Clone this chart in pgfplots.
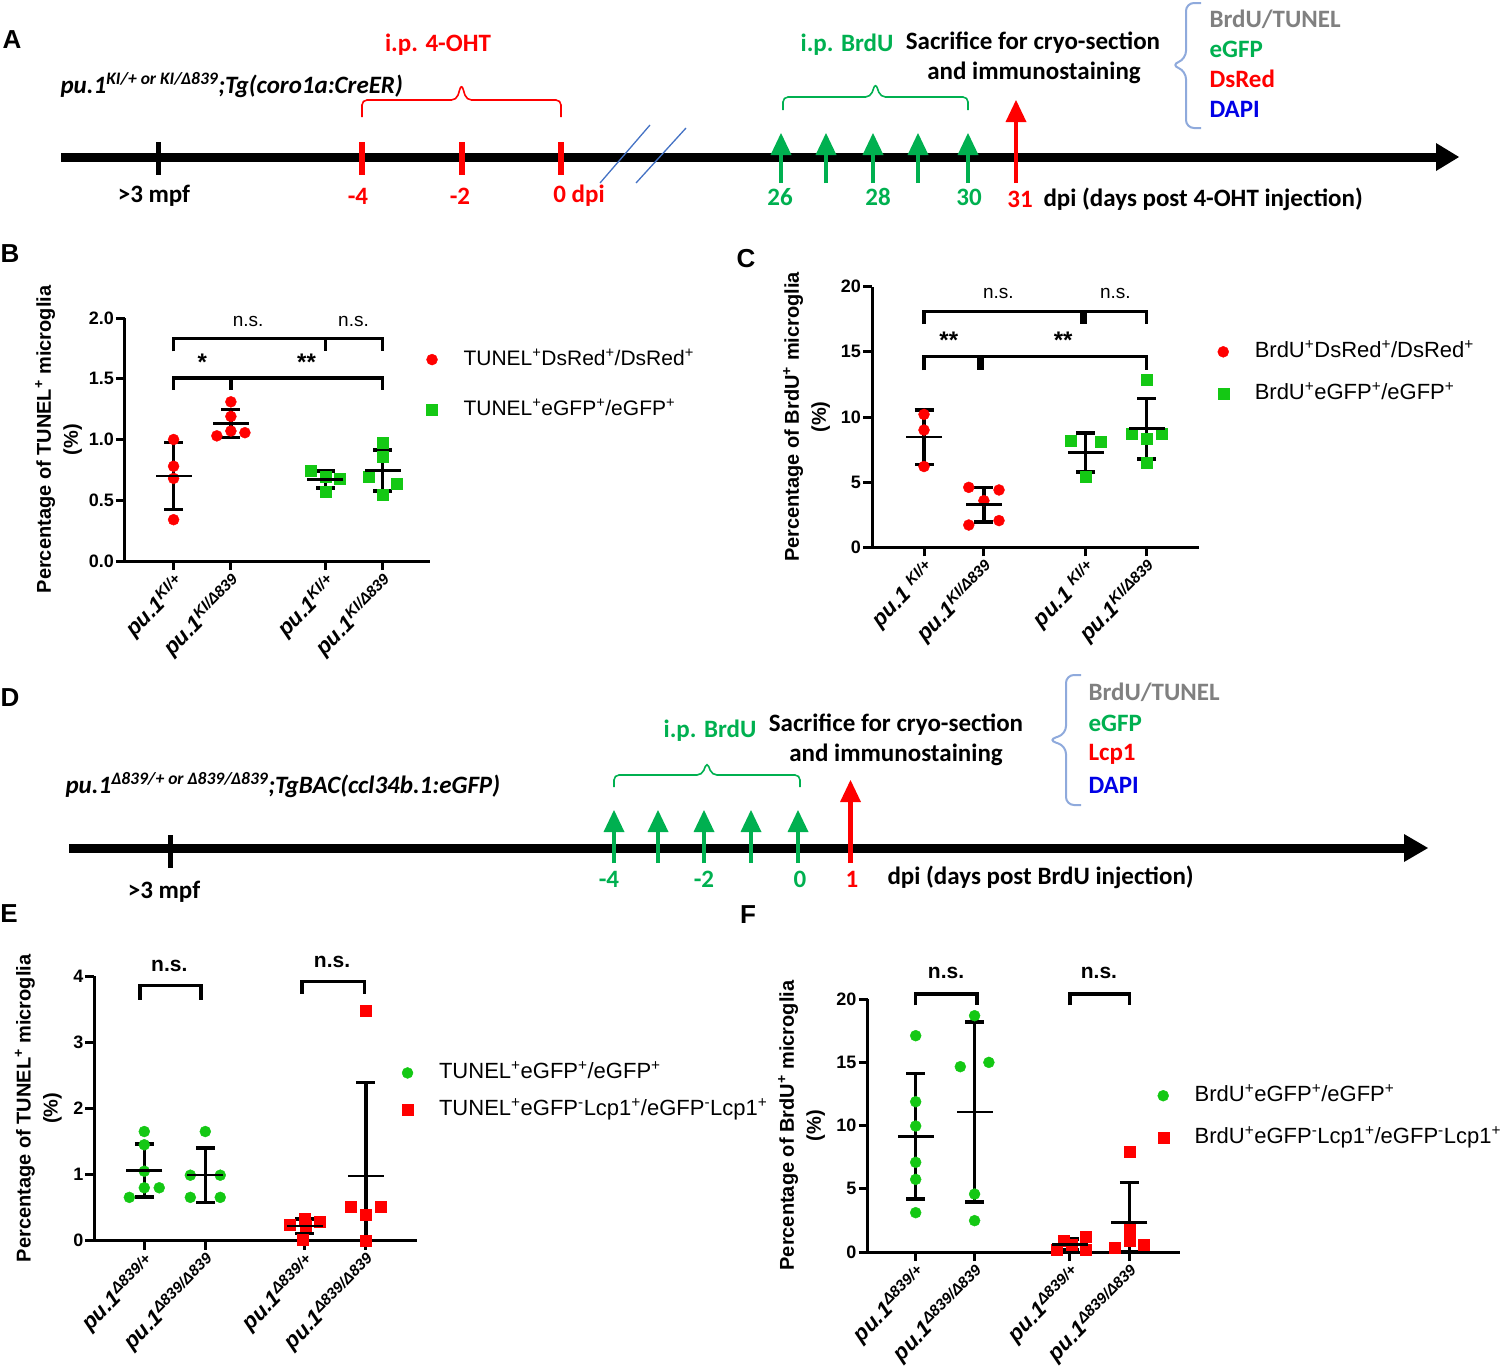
\documentclass[border=0pt]{standalone}
\usepackage{fontspec}
\setmainfont{Liberation Sans}
\newfontfamily\calfont{Carlito}
\usepackage{pgfplots}
\pgfplotsset{compat=1.18}

\definecolor{pred}{RGB}{255,0,0}
\definecolor{pgreen}{RGB}{20,200,20}
\definecolor{tgreen}{RGB}{0,176,80}
\definecolor{tgray}{RGB}{128,128,128}
\definecolor{tblue}{RGB}{0,0,230}
\definecolor{brblue}{RGB}{143,170,220}
\definecolor{dblue}{RGB}{68,114,196}

\newcommand{\fs}[1]{\fontsize{#1}{#1}\selectfont}
\newcommand{\tl}{\calfont\bfseries\fs{25}}
% horizontal brace: x1, x2, ybottom, ymid, ytip, colour
\newcommand{\hbrace}[6]{\draw[#6, line width=1.6pt, rounded corners=5pt] (#1,#3) -- (#1,#4) -- ({(#1+#2)/2-5},#4) -- ({(#1+#2)/2},#5) -- ({(#1+#2)/2+5},#4) -- (#2,#4) -- (#2,#3);}
\newcommand{\uparrowg}[4]{% x, ybottom, ytip, colour
  \draw[#4, line width=4.5pt] (#1,#2) -- (#1,{#3+18});
  \fill[#4] ({#1-10.5},{#3+22}) -- (#1,#3) -- ({#1+10.5},{#3+22}) -- cycle;}

\pgfplotsset{
  panel/.style={
    scale only axis, clip=false,
    axis x line*=bottom, axis y line*=left,
    axis line style={line width=3pt, black},
    tick align=outside, major tick length=9pt,
    every tick/.style={black, line width=3pt},
    ymin=0,
    yticklabel style={font=\bfseries\fs{18}, /pgf/number format/assume math mode=true, inner sep=2pt},
    xticklabel style={font=\bfseries\itshape\fs{22}, rotate=45, anchor=north east, inner sep=1pt},
    ylabel style={font=\bfseries\fontsize{20}{27}\selectfont, align=center, anchor=center},
    legend cell align=left,
    legend image code/.code={\draw[##1, mark repeat=1] plot coordinates {(0pt,0pt)};},
    legend style={draw=none, fill=none, font=\fs{22}, inner sep=0pt, column sep=24pt,
      anchor=north west, nodes={inner sep=2pt, text height=15pt, text depth=4pt}},
  },
  pts/.style={only marks, mark size=5.5pt, mark options={draw=none, fill=#1}, color=#1},
  msd/.style={only marks, mark=-, mark size=18pt, mark options={line width=2.5pt, black}, black, forget plot,
    error bars/.cd, y dir=both, y explicit, error bar style={line width=3.5pt, black},
    error mark options={line width=3.5pt, mark size=9.5pt, rotate=90, black}},
  brk/.style={black, line width=3.5pt, forget plot, mark=none},
}

\begin{document}
\begin{tikzpicture}
\path[use as bounding box] (0,0) rectangle (1500pt,-1368pt);

% ---------------- Timelines (schematic) ----------------
\begin{scope}[x=1pt,y=-1pt]
% panel letters
\node[font=\bfseries\fs{26}] at (12,40) {A};
\node[font=\bfseries\fs{26}] at (10,254) {B};
\node[font=\bfseries\fs{26}] at (746,259) {C};
\node[font=\bfseries\fs{26}] at (10,698) {D};
\node[font=\bfseries\fs{26}] at (9,914) {E};
\node[font=\bfseries\fs{26}] at (748,915) {F};

% ---- A ----
\draw[line width=9pt] (61,157) -- (1440,157);
\fill (1436,143) -- (1459,157) -- (1436,171) -- cycle;
\draw[line width=5pt] (158,142) -- (158,175);
\foreach \x in {362,462,561} {\draw[pred, line width=6pt] (\x,142) -- (\x,175);}
\draw[dblue, line width=1.3pt] (600,183) -- (650,125);
\draw[dblue, line width=1.3pt] (636,183) -- (686,128);
\foreach \x in {781,826,873,918,968} {\uparrowg{\x}{183}{133}{tgreen}}
\uparrowg{1016}{183}{100}{pred}
\hbrace{362}{561}{117}{100}{84}{pred}
\hbrace{783}{968}{110}{97}{83}{tgreen}
\draw[brblue, line width=2pt, rounded corners=8pt] (1201,3) -- (1186,3) -- (1186,59) -- (1171,65) -- (1186,71) -- (1186,128) -- (1201,128);

\node[font=\tl, anchor=west] at (57,85) {\itshape pu.1\textsuperscript{KI/+ or KI/Δ839};Tg(coro1a:CreER)};
\node[font=\tl, text=pred] at (438,45) {i.p. 4-OHT};
\node[font=\tl] at (154,196) {>3 mpf};
\node[font=\tl, text=pred] at (358,196) {-4};
\node[font=\tl, text=pred] at (460,196) {-2};
\node[font=\tl, text=pred] at (579,196) {0 dpi};
\node[font=\tl, text=tgreen] at (780,197) {26};
\node[font=\tl, text=tgreen] at (878,197) {28};
\node[font=\tl, text=tgreen] at (969,197) {30};
\node[font=\tl, text=pred] at (1020,199) {31};
\node[font=\tl, anchor=west] at (1040,199) {dpi (days post 4-OHT injection)};
\node[font=\tl, text=tgreen] at (847,45) {i.p. BrdU};
\node[font=\tl] at (1033,43) {Sacrifice for cryo-section};
\node[font=\tl] at (1034,73) {and immunostaining};
\node[font=\tl, text=tgray, anchor=west] at (1206,19) {BrdU/TUNEL};
\node[font=\tl, text=tgreen, anchor=west] at (1206,49) {eGFP};
\node[font=\tl, text=pred, anchor=west] at (1206,79) {DsRed};
\node[font=\tl, text=tblue, anchor=west] at (1206,109) {DAPI};

% ---- D ----
\draw[line width=9pt] (69,848) -- (1408,848);
\fill (1404,834) -- (1428,848) -- (1404,862) -- cycle;
\draw[line width=5pt] (170,835) -- (170,868);
\foreach \x in {614,658,704,751,798} {\uparrowg{\x}{863}{810}{tgreen}}
\uparrowg{850.5}{863}{780}{pred}
\hbrace{614}{800}{787}{775}{762}{tgreen}
\draw[brblue, line width=2pt, rounded corners=8pt] (1081,675) -- (1066,675) -- (1066,734) -- (1048,740) -- (1066,746) -- (1066,805) -- (1081,805);

\node[font=\tl, anchor=west] at (62,785) {\itshape pu.1\textsuperscript{Δ839/+ or Δ839/Δ839};TgBAC(ccl34b.1:eGFP)};
\node[font=\tl] at (164,892) {>3 mpf};
\node[font=\tl, text=tgreen] at (609,879) {-4};
\node[font=\tl, text=tgreen] at (704,879) {-2};
\node[font=\tl, text=tgreen] at (800,879) {0};
\node[font=\tl, text=pred] at (852,879) {1};
\node[font=\tl, anchor=west] at (884,877) {dpi (days post BrdU injection)};
\node[font=\tl, text=tgreen] at (710,731) {i.p. BrdU};
\node[font=\tl] at (896,725) {Sacrifice for cryo-section};
\node[font=\tl] at (896,755) {and immunostaining};
\node[font=\tl, text=tgray, anchor=west] at (1085,692) {BrdU/TUNEL};
\node[font=\tl, text=tgreen, anchor=west] at (1085,723) {eGFP};
\node[font=\tl, text=pred, anchor=west] at (1085,754) {Lcp1};
\node[font=\tl, text=tblue, anchor=west] at (1085,785) {DAPI};
\end{scope}

% ---------------- Panel B ----------------
\begin{axis}[panel, at={(125pt,-561pt)}, anchor=south west,
  width=305pt, height=243pt, xmin=0.152, xmax=5.475, ymax=2,
  ytick={0,0.5,1,1.5,2},
  yticklabel style={/pgf/number format/.cd, fixed, fixed zerofill, precision=1},
  xtick={1,2,3.65,4.65},
  xticklabels={pu.1\textsuperscript{KI/+}, pu.1\textsuperscript{KI/Δ839}, pu.1\textsuperscript{KI/+}, pu.1\textsuperscript{KI/Δ839}},
  ylabel={Percentage of TUNEL\textsuperscript{+} microglia\\(\%)},
  ylabel style={at={(axis description cs:-0.218,0.5)}},
  legend style={at={(0.988,0.877)}, row sep=27pt, font=\fs{21}}]
\addplot[pts=pred, mark=*] coordinates {(1,1.00) (1,0.78) (1,0.68) (1,0.34)
  (2,1.31) (2,1.19) (2,1.07) (1.755,1.03) (2.245,1.056)};
\addlegendentry{TUNEL\textsuperscript{+}DsRed\textsuperscript{+}/DsRed\textsuperscript{+}}
\addplot[pts=pgreen, mark=square*] coordinates {(3.40,0.745) (3.90,0.68) (3.65,0.57) (3.65,0.69)
  (4.65,0.97) (4.65,0.86) (4.40,0.695) (4.90,0.64) (4.65,0.544)};
\addlegendentry{TUNEL\textsuperscript{+}eGFP\textsuperscript{+}/eGFP\textsuperscript{+}}
\addplot[msd] coordinates {(1,0.70) +- (0,0.275) (2,1.133) +- (0,0.116) (3.65,0.672) +- (0,0.07) (4.65,0.745) +- (0,0.167)};
\addplot[brk] coordinates {(1,1.725) (1,1.83) (4.65,1.83) (4.65,1.725)};
\addplot[brk] coordinates {(3.65,1.83) (3.65,1.725)};
\addplot[brk] coordinates {(1,1.41) (1,1.505) (4.65,1.505) (4.65,1.41)};
\addplot[brk] coordinates {(2,1.505) (2,1.41)};
\node[font=\fs{19}] at (axis cs:2.30,1.975) {n.s.};
\node[font=\fs{19}] at (axis cs:4.14,1.975) {n.s.};
\node[font=\bfseries\fs{24}] at (axis cs:1.50,1.64) {*};
\node[font=\bfseries\fs{24}] at (axis cs:3.32,1.64) {**};
\end{axis}

% ---------------- Panel C ----------------
\begin{axis}[panel, at={(872pt,-547.3pt)}, anchor=south west,
  width=326.6pt, height=260.6pt, xmin=0.14, xmax=5.54, ymax=20,
  ytick={0,5,10,15,20},
  xtick={1,1.99,3.67,4.68},
  xticklabels={pu.1 \textsuperscript{KI/+}, pu.1\textsuperscript{KI/Δ839}, pu.1 \textsuperscript{KI/+}, pu.1\textsuperscript{KI/Δ839}},
  ylabel={Percentage of BrdU\textsuperscript{+} microglia\\(\%)},
  ylabel style={at={(axis description cs:-0.2005,0.5)}},
  legend style={at={(1.058,0.795)}, row sep=19pt}]
\addplot[pts=pred, mark=*] coordinates {(1,10.2) (1,9.0) (1,6.2)
  (1.74,4.6) (2.24,4.4) (1.99,3.58) (1.74,1.71) (2.24,2.05)};
\addlegendentry{BrdU\textsuperscript{+}DsRed\textsuperscript{+}/DsRed\textsuperscript{+}}
\addplot[pts=pgreen, mark=square*] coordinates {(3.42,8.18) (3.92,8.08) (3.67,5.42)
  (4.68,12.9) (4.43,8.75) (4.93,8.75) (4.68,8.36) (4.68,6.52)};
\addlegendentry{BrdU\textsuperscript{+}eGFP\textsuperscript{+}/eGFP\textsuperscript{+}}
\addplot[msd] coordinates {(1,8.45) +- (0,2.09) (1.99,3.27) +- (0,1.33) (3.67,7.29) +- (0,1.5) (4.68,9.1) +- (0,2.32)};
\addplot[brk] coordinates {(1,17.13) (1,18.08) (4.68,18.08) (4.68,17.13)};
\addplot[brk, line width=7pt] coordinates {(3.63,18.08) (3.63,17.13)};
\addplot[brk] coordinates {(1,13.6) (1,14.63) (4.68,14.63) (4.68,13.6)};
\addplot[brk, line width=7pt] coordinates {(1.94,14.63) (1.94,13.6)};
\node[font=\fs{19}] at (axis cs:2.23,19.5) {n.s.};
\node[font=\fs{19}] at (axis cs:4.165,19.5) {n.s.};
\node[font=\bfseries\fs{24}] at (axis cs:1.41,15.9) {**};
\node[font=\bfseries\fs{24}] at (axis cs:3.30,15.9) {**};
\end{axis}

% ---------------- Panel E ----------------
\begin{axis}[panel, at={(94.5pt,-1240.7pt)}, anchor=south west,
  width=322.5pt, height=264.7pt, xmin=0.184, xmax=5.47, ymax=4,
  ytick={0,1,2,3,4},
  xtick={1,2,3.626,4.63},
  xticklabels={pu.1\textsuperscript{Δ839/+}, pu.1\textsuperscript{Δ839/Δ839}, pu.1\textsuperscript{Δ839/+}, pu.1\textsuperscript{Δ839/Δ839}},
  ylabel={Percentage of TUNEL\textsuperscript{+} microglia\\(\%)},
  ylabel style={at={(axis description cs:-0.174,0.5)}},
  legend style={at={(0.953,0.678)}, row sep=14pt}]
\addplot[pts=pgreen, mark=*] coordinates {(1,1.65) (1,1.45) (1,1.05) (1,0.80) (1.245,0.80) (0.755,0.655)
  (2,1.65) (1.755,0.99) (2.245,0.99) (1.755,0.655) (2.245,0.655)};
\addlegendentry{TUNEL\textsuperscript{+}eGFP\textsuperscript{+}/eGFP\textsuperscript{+}}
\addplot[pts=pred, mark=square*] coordinates {(3.381,0.24) (3.871,0.29) (3.626,0.33) (3.60,0.02) (3.65,0.22)
  (4.63,3.48) (4.385,0.51) (4.875,0.51) (4.63,0.39) (4.63,0.0)};
\addlegendentry{TUNEL\textsuperscript{+}eGFP\textsuperscript{-}Lcp1\textsuperscript{+}/eGFP\textsuperscript{-}Lcp1\textsuperscript{+}}
\addplot[msd] coordinates {(1,1.06) +- (0,0.40) (2,0.99) +- (0,0.41) (3.626,0.22) +- (0,0.11) (4.63,0.978) += (0,1.41) -= (0,0.978)};
\addplot[brk] coordinates {(0.93,3.64) (0.93,3.86) (1.93,3.86) (1.93,3.64)};
\addplot[brk] coordinates {(3.585,3.73) (3.585,3.92) (4.61,3.92) (4.61,3.73)};
\node[font=\bfseries\fs{21}] at (axis cs:1.41,4.15) {n.s.};
\node[font=\bfseries\fs{21}] at (axis cs:4.077,4.21) {n.s.};
\end{axis}

% ---------------- Panel F ----------------
\begin{axis}[panel, at={(867.6pt,-1252pt)}, anchor=south west,
  width=312.4pt, height=253pt, xmin=0.192, xmax=5.442, ymax=20,
  ytick={0,5,10,15,20},
  xtick={1,1.99,3.593,4.593},
  xticklabels={pu.1\textsuperscript{Δ839/+}, pu.1\textsuperscript{Δ839/Δ839}, pu.1\textsuperscript{Δ839/+}, pu.1\textsuperscript{Δ839/Δ839}},
  ylabel={Percentage of BrdU\textsuperscript{+} microglia\\(\%)},
  ylabel style={at={(axis description cs:-0.2116,0.5)}},
  legend style={at={(0.928,0.664)}, row sep=19pt}]
\addplot[pts=pgreen, mark=*] coordinates {(1,17.1) (1,11.88) (1,9.96) (1,7.09) (1,5.74) (1,3.11)
  (1.99,18.68) (1.75,14.65) (2.23,14.99) (1.99,4.58) (1.99,2.48)};
\addlegendentry{BrdU\textsuperscript{+}eGFP\textsuperscript{+}/eGFP\textsuperscript{+}}
\addplot[pts=pred, mark=square*] coordinates {(3.37,0.21) (3.49,0.87) (3.855,1.21) (3.855,0.16) (3.62,0.55)
  (4.593,7.93) (4.593,1.87) (4.593,0.9) (4.35,0.37) (4.84,0.6)};
\addlegendentry{BrdU\textsuperscript{+}eGFP\textsuperscript{-}Lcp1\textsuperscript{+}/eGFP\textsuperscript{-}Lcp1\textsuperscript{+}}
\addplot[msd] coordinates {(1,9.15) +- (0,4.97) (1.99,11.08) +- (0,7.11) (3.593,0.6) +- (0,0.42) (4.593,2.33) += (0,3.15) -= (0,2.33)};
\addplot[brk] coordinates {(1,19.5) (1,20.4) (2.03,20.4) (2.03,19.5)};
\addplot[brk] coordinates {(3.59,19.5) (3.59,20.4) (4.593,20.4) (4.593,19.5)};
\node[font=\bfseries\fs{21}] at (axis cs:1.51,22.05) {n.s.};
\node[font=\bfseries\fs{21}] at (axis cs:4.08,22.05) {n.s.};
\end{axis}
\end{tikzpicture}
\end{document}
